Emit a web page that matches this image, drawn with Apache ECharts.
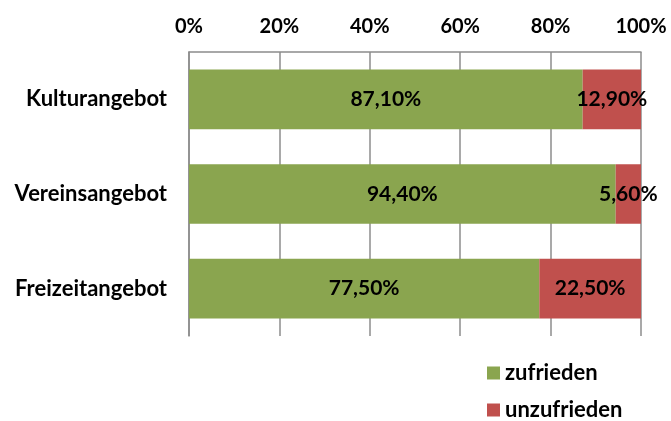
<!DOCTYPE html>
<html><head><meta charset="utf-8">
<script src="https://cdn.jsdelivr.net/npm/echarts@6/dist/echarts.min.js"></script>
<style>html,body{margin:0;padding:0;background:#fff}#c{width:671px;height:421px}</style>
</head><body><div id="c"></div>
<script>
const categories = ['Kulturangebot', 'Vereinsangebot', 'Freizeitangebot'];
const zufrieden = [87.1, 94.4, 77.5];
const unzufrieden = [12.9, 5.6, 22.5];
const seriesNames = ['zufrieden', 'unzufrieden'];
const colors = ['#8AA54F', '#C0504D'];
const FONT = 'Lato';
const fmt = p => p.value.toFixed(2).replace('.', ',') + '%';
const chart = echarts.init(document.getElementById('c'), null, {renderer: 'canvas'});
const labelStyle = {show: true, position: 'inside', formatter: fmt, color: '#000', fontFamily: FONT, fontWeight: 'bold', fontSize: 21};
const legendText = {color: '#000', fontFamily: FONT, fontWeight: 'bold', fontSize: 22, lineHeight: 22};
chart.setOption({
  animation: false,
  color: colors,
  grid: {left: 189, right: 30, top: 52, bottom: 85, containLabel: false},
  xAxis: {
    type: 'value', position: 'top', min: 0, max: 100, interval: 20,
    axisLine: {show: true, lineStyle: {color: '#8c8c8c', width: 1.5}},
    axisTick: {show: false},
    splitLine: {show: true, lineStyle: {color: '#8c8c8c', width: 1.5}},
    axisLabel: {formatter: v => v + '%', color: '#000', fontFamily: FONT, fontWeight: 'bold', fontSize: 20, margin: 15}
  },
  yAxis: {
    type: 'category', data: categories, inverse: true,
    axisLine: {show: true, lineStyle: {color: '#8c8c8c', width: 1.5}},
    axisTick: {show: false},
    axisLabel: {color: '#000', fontFamily: FONT, fontWeight: 'bold', fontSize: 22, margin: 22}
  },
  legend: [
    {left: 487, top: 362, itemWidth: 13, itemHeight: 13, icon: 'rect', padding: 0, textStyle: legendText, data: [seriesNames[0]]},
    {left: 487, top: 399, itemWidth: 13, itemHeight: 13, icon: 'rect', padding: 0, textStyle: legendText, data: [seriesNames[1]]}
  ],
  series: [
    {name: seriesNames[0], type: 'bar', stack: 's', data: zufrieden, barWidth: '63%', label: labelStyle},
    {name: seriesNames[1], type: 'bar', stack: 's', data: unzufrieden, barWidth: '63%', label: labelStyle}
  ]
});
</script></body></html>
